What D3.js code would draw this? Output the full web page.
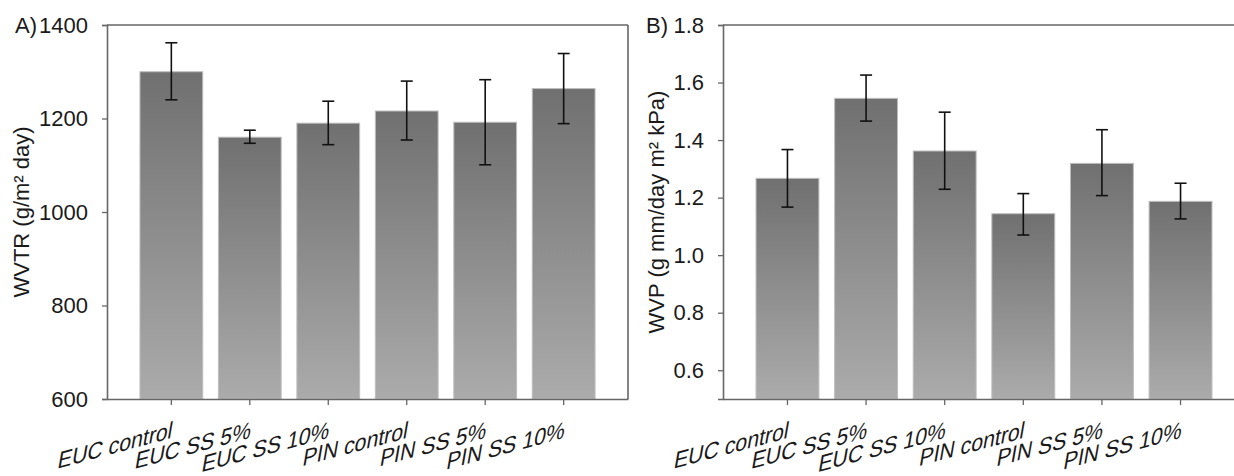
<!DOCTYPE html>
<html>
<head>
<meta charset="utf-8">
<script src="https://cdn.jsdelivr.net/npm/d3@7"></script>
<style>
  html, body { margin: 0; padding: 0; background: #fff; }
  svg { display: block; font-family: "Liberation Sans", Arial, sans-serif; }
</style>
</head>
<body>
<svg id="chart" width="1234" height="476"></svg>
<script>
const categories = ["EUC control", "EUC SS 5%", "EUC SS 10%", "PIN control", "PIN SS 5%", "PIN SS 10%"];

// Panel A: WVTR
const wvtrMean = [1300, 1160, 1190, 1216, 1192, 1264];
const wvtrLow  = [1240, 1147, 1144, 1154, 1101, 1189];
const wvtrHigh = [1362, 1175, 1237, 1280, 1283, 1339];
const wvtrTicks = [600, 800, 1000, 1200, 1400];

// Panel B: WVP
const wvpMean = [1.267, 1.545, 1.362, 1.144, 1.319, 1.187];
const wvpLow  = [1.167, 1.466, 1.229, 1.070, 1.207, 1.126];
const wvpHigh = [1.367, 1.626, 1.497, 1.214, 1.436, 1.250];
const wvpTicks = [0.6, 0.8, 1.0, 1.2, 1.4, 1.6, 1.8];

const FS = 22;
const svg = d3.select("#chart");

const defs = svg.append("defs");
const grad = defs.append("linearGradient")
  .attr("id", "barGrad").attr("x1", 0).attr("y1", 0).attr("x2", 0).attr("y2", 1);
grad.append("stop").attr("offset", "0%").attr("stop-color", "#707070");
grad.append("stop").attr("offset", "100%").attr("stop-color", "#ababab");

function panel(opts) {
  const { left, right, top, bottom, domain, ticks, fmt, mean, low, high,
          letter, letterX, title, titleX, boxRight } = opts;
  const g = svg.append("g");
  const x = d3.scaleBand().domain(categories).range([left, right]).paddingInner(0.2).paddingOuter(0.42);
  const y = d3.scaleLinear().domain(domain).range([bottom, top]);

  // bars
  g.selectAll("rect.bar").data(categories).join("rect")
    .attr("class", "bar")
    .attr("x", d => x(d))
    .attr("width", x.bandwidth())
    .attr("y", (d, i) => y(mean[i]))
    .attr("height", (d, i) => y(domain[0]) - y(mean[i]))
    .attr("fill", "url(#barGrad)")
    .attr("stroke", "#bdbdbd")
    .attr("stroke-width", 1);

  // error bars
  const cap = 6;
  const eg = g.append("g").attr("stroke", "#111").attr("stroke-width", 1.6);
  categories.forEach((c, i) => {
    const cx = x(c) + x.bandwidth() / 2;
    eg.append("line").attr("x1", cx).attr("x2", cx).attr("y1", y(low[i])).attr("y2", y(high[i]));
    eg.append("line").attr("x1", cx - cap).attr("x2", cx + cap).attr("y1", y(low[i])).attr("y2", y(low[i]));
    eg.append("line").attr("x1", cx - cap).attr("x2", cx + cap).attr("y1", y(high[i])).attr("y2", y(high[i]));
  });

  // frame lines
  const fg = g.append("g").attr("stroke", "#666").attr("stroke-width", 1.6).attr("fill", "none");
  fg.append("line").attr("x1", left).attr("x2", right).attr("y1", top).attr("y2", top);
  if (boxRight) fg.append("line").attr("x1", right).attr("x2", right).attr("y1", top).attr("y2", bottom);

  // y axis
  const ya = g.append("g").attr("transform", `translate(${left},0)`)
    .call(d3.axisLeft(y).tickValues(ticks).tickFormat(fmt).tickSize(5).tickPadding(14));
  ya.select(".domain").attr("stroke", "#666").attr("stroke-width", 1.6);
  ya.selectAll(".tick line").attr("stroke", "#666").attr("stroke-width", 1.3);
  ya.selectAll(".tick text").attr("font-size", FS).attr("fill", "#1a1a1a")
    .attr("font-family", '"Liberation Sans", Arial, sans-serif');

  // x axis
  const xa = g.append("g").attr("transform", `translate(0,${bottom})`)
    .call(d3.axisBottom(x).tickSize(6).tickSizeOuter(0));
  xa.select(".domain").attr("stroke", "#666").attr("stroke-width", 1.6);
  xa.selectAll(".tick line").attr("stroke", "#666").attr("stroke-width", 1.3);
  xa.selectAll(".tick text")
    .attr("font-size", FS).attr("fill", "#1a1a1a")
    .attr("font-family", '"Liberation Sans", Arial, sans-serif')
    .attr("text-anchor", "end")
    .attr("y", 0).attr("dy", 0)
    .attr("transform", "translate(0,39) rotate(-15) skewX(-25)");

  // y title
  g.append("text")
    .attr("transform", `translate(${titleX},${(top + bottom) / 2}) rotate(-90)`)
    .attr("text-anchor", "middle")
    .attr("font-size", FS).attr("fill", "#1a1a1a")
    .text(title);

  // panel letter
  g.append("text")
    .attr("x", letterX).attr("y", top + 8)
    .attr("text-anchor", "end")
    .attr("font-size", FS).attr("fill", "#1a1a1a")
    .text(letter);
}

panel({
  left: 107, right: 628, top: 25, bottom: 399,
  domain: [600, 1400], ticks: wvtrTicks, fmt: d3.format("d"),
  mean: wvtrMean, low: wvtrLow, high: wvtrHigh,
  letter: "A)", letterX: 37, title: "WVTR (g/m² day)", titleX: 29, boxRight: true
});

panel({
  left: 723, right: 1245, top: 25, bottom: 399,
  domain: [0.5, 1.8], ticks: wvpTicks, fmt: d3.format(".1f"),
  mean: wvpMean, low: wvpLow, high: wvpHigh,
  letter: "B)", letterX: 668, title: "WVP (g mm/day m² kPa)", titleX: 664, boxRight: true
});
</script>
</body>
</html>
